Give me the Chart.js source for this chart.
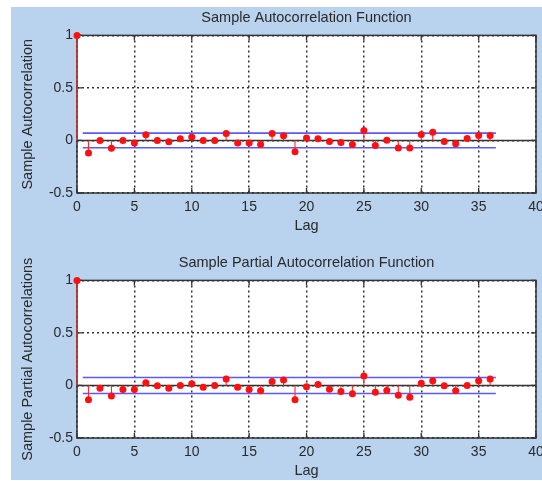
<!DOCTYPE html>
<html>
<head>
<meta charset="utf-8">
<script src="https://cdn.jsdelivr.net/npm/chart.js@4/dist/chart.umd.min.js"></script>
<style>
  html, body { margin: 0; padding: 0; background: #fff; }
  #fig { position: relative; width: 542px; height: 481px; overflow: hidden; }
  #bg { position: absolute; left: 11px; top: 7px; width: 531px; height: 473px; background: #b9d2ee; }
  canvas { position: absolute; left: 0; }
</style>
</head>
<body>
<div id="fig">
  <div id="bg"></div>
  <canvas id="acf" width="542" height="236" style="top:0px"></canvas>
  <canvas id="pacf" width="542" height="236" style="top:245px"></canvas>
</div>
<script>
const lags = [0, 1, 2, 3, 4, 5, 6, 7, 8, 9, 10, 11, 12, 13, 14, 15, 16, 17, 18,
  19, 20, 21, 22, 23, 24, 25, 26, 27, 28, 29, 30, 31, 32, 33, 34, 35, 36];
const acfValues = [1, -0.12, 0.0, -0.073, 0.0, -0.025, 0.054, 0.0, -0.013, 0.016,
  0.032, 0.0, 0.0, 0.066, -0.025, -0.025, -0.038, 0.066, 0.044, -0.108,
  0.024, 0.016, -0.01, -0.02, -0.038, 0.094, -0.047, 0.003, -0.072, -0.072,
  0.057, 0.079, -0.01, -0.031, 0.019, 0.047, 0.047];
const pacfValues = [1, -0.135, -0.026, -0.1, -0.038, -0.038, 0.026, -0.003, -0.026, 0.0,
  0.016, -0.016, 0.0, 0.061, -0.016, -0.038, -0.051, 0.038, 0.051, -0.135,
  -0.013, 0.01, -0.035, -0.058, -0.08, 0.09, -0.064, -0.048, -0.093, -0.112,
  0.022, 0.045, -0.003, -0.051, 0.0, 0.045, 0.061];
const acfBound = 0.07;
const pacfBound = 0.076;
const boundRange = [0.5, 36.5];
const xTicks = [0, 5, 10, 15, 20, 25, 30, 35, 40];
const yTicks = [-0.5, 0, 0.5, 1];

const FONT = "'Liberation Sans', Arial, sans-serif";
const TEXT = "#2a2a2a";

// white plot area
const bgPlugin = {
  id: "plot_bg",
  beforeDraw: (chart) => {
    const { ctx, chartArea: a } = chart;
    ctx.save();
    ctx.fillStyle = "#fff";
    ctx.fillRect(a.left, a.top, a.width, a.height);
    ctx.restore();
  },
};

// axes box with inward ticks, like matlab
const boxPlugin = {
  id: "plot_box",
  beforeDatasetsDraw: (chart) => {
    const { ctx, chartArea: a, scales } = chart;
    ctx.save();
    ctx.strokeStyle = "#333";
    ctx.lineWidth = 1.3;
    ctx.beginPath();
    xTicks.forEach((v) => {
      const px = scales.x.getPixelForValue(v);
      ctx.moveTo(px, a.top);
      ctx.lineTo(px, a.top + 5);
      ctx.moveTo(px, a.bottom);
      ctx.lineTo(px, a.bottom - 5);
    });
    yTicks.forEach((v) => {
      const py = scales.y.getPixelForValue(v);
      ctx.moveTo(a.left, py);
      ctx.lineTo(a.left + 5, py);
      ctx.moveTo(a.right, py);
      ctx.lineTo(a.right - 5, py);
    });
    ctx.stroke();
    ctx.lineWidth = 1.5;
    ctx.strokeRect(a.left, a.top, a.width, a.height);
    ctx.restore();
  },
};

const makeChart = (id, title, yTitle, values, bound) => {
  const stems = lags.flatMap((lag, i) => [
    { x: lag, y: 0 },
    { x: lag, y: values[i] },
    { x: lag, y: null },
  ]);
  const points = lags.map((lag, i) => ({ x: lag, y: values[i] }));
  const line = (data, color, width, order) => ({
    data,
    borderColor: color,
    borderWidth: width,
    pointRadius: 0,
    order,
  });

  return new Chart(document.getElementById(id), {
    type: "line",
    data: {
      datasets: [
        line([{ x: 0, y: 0 }, { x: 40, y: 0 }], "#333", 1.5, 5),
        line([{ x: boundRange[0], y: bound }, { x: boundRange[1], y: bound }], "#5a5aff", 1.6, 4),
        line([{ x: boundRange[0], y: -bound }, { x: boundRange[1], y: -bound }], "#5a5aff", 1.6, 4),
        { ...line(stems, "#ff2a2a", 1.1, 2), spanGaps: false, clip: false },
        {
          data: points,
          showLine: false,
          pointRadius: 3.5,
          pointBorderWidth: 0,
          pointBackgroundColor: "#ff1010",
          borderColor: "#ff1010",
          clip: false,
          order: 1,
        },
      ],
    },
    options: {
      responsive: false,
      animation: false,
      layout: { padding: { top: 0, right: 6, bottom: 0, left: 0 } },
      scales: {
        x: {
          type: "linear",
          min: 0,
          max: 40,
          afterBuildTicks: (s) => { s.ticks = xTicks.map((v) => ({ value: v })); },
          afterFit: (s) => { s.height = 43; s.paddingLeft = 0; s.paddingRight = 0; },
          ticks: { padding: 6, maxRotation: 0, autoSkip: false, color: TEXT, font: { family: FONT, size: 14 } },
          grid: { color: "#333", lineWidth: 1.5, drawTicks: false },
          border: { display: false, dash: [2, 3] },
          title: { display: true, text: "Lag", color: TEXT, font: { family: FONT, size: 14.5 }, padding: { top: 0, bottom: 1 } },
        },
        y: {
          type: "linear",
          min: -0.5,
          max: 1,
          afterBuildTicks: (s) => { s.ticks = yTicks.map((v) => ({ value: v })); },
          afterFit: (s) => { s.width = 77; s.paddingTop = 0; s.paddingBottom = 0; },
          ticks: { padding: 4, color: TEXT, font: { family: FONT, size: 14 }, callback: (v) => String(v) },
          grid: { color: "#333", lineWidth: 1.5, drawTicks: false },
          border: { display: false, dash: [2, 3] },
          title: { display: true, text: yTitle, color: TEXT, font: { family: FONT, size: 14.5 }, padding: { top: 19, bottom: 0 } },
        },
      },
      plugins: {
        legend: { display: false },
        tooltip: { enabled: false },
        title: {
          display: true,
          text: title,
          fullSize: false,
          color: TEXT,
          font: { family: FONT, size: 14.5, weight: "normal" },
          padding: { top: 9, bottom: 9 },
        },
      },
    },
    plugins: [bgPlugin, boxPlugin],
  });
};

makeChart("acf", "Sample Autocorrelation Function", "Sample Autocorrelation", acfValues, acfBound);
makeChart("pacf", "Sample Partial Autocorrelation Function", "Sample Partial Autocorrelations", pacfValues, pacfBound);
</script>
</body>
</html>
